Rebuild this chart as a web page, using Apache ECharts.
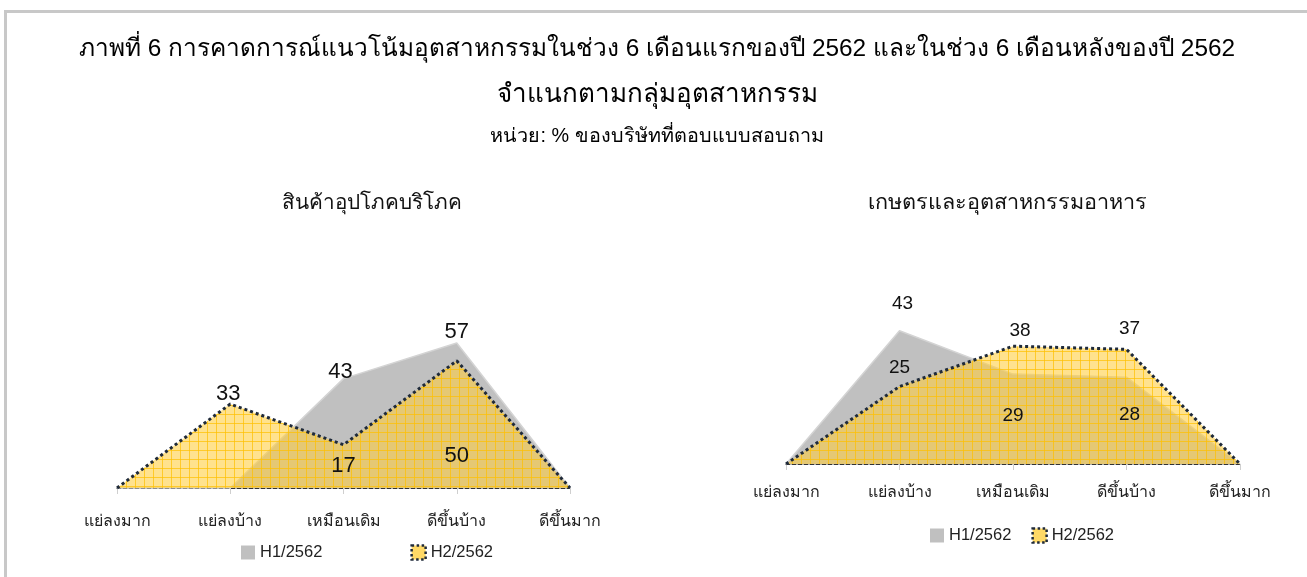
<!DOCTYPE html>
<html>
<head>
<meta charset="utf-8">
<script src="https://cdn.jsdelivr.net/npm/echarts@6/dist/echarts.min.js"></script>
<style>
  html, body { margin: 0; padding: 0; background: #fff; }
  #chart { width: 1307px; height: 577px; }
  .frame { position: absolute; left: 4px; top: 10px; right: 0; bottom: 0;
    border-top: 3px solid #c8c8c8; border-left: 3px solid #c8c8c8; pointer-events: none; }
</style>
</head>
<body>
<div id="chart"></div>
<div class="frame"></div>
<script>
const categories = ['แย่ลงมาก', 'แย่ลงบ้าง', 'เหมือนเดิม', 'ดีขึ้นบ้าง', 'ดีขึ้นมาก']
const seriesNames = ['H1/2562', 'H2/2562']
const consumerH1 = [0, 0, 43, 57, 0]
const consumerH2 = [0, 33, 17, 50, 0]
const foodH1 = [0, 43, 29, 28, 0]
const foodH2 = [0, 25, 38, 37, 0]

const FONT = '"Liberation Sans", Arial, "Noto Sans", sans-serif'
const GRAY = '#c0c0c0'
const DOTS = '#1f2a3a'

// yellow fill with a small grid, like the excel pattern fill
function gridPattern() {
  const c = document.createElement('canvas')
  c.width = 9; c.height = 9
  const g = c.getContext('2d')
  g.fillStyle = 'rgba(255,205,60,0.58)'
  g.fillRect(0, 0, 9, 9)
  g.fillStyle = 'rgba(255,192,0,0.7)'
  g.fillRect(0, 0, 9, 1)
  g.fillRect(0, 0, 1, 9)
  return c
}
const pattern = { image: gridPattern(), repeat: 'repeat' }

// label nudges per point: [dx, dy] from the 'top' position, null = hidden
const consumerH1Lbl = [null, null, [-3, 4], [0, 0], null]
const consumerH2Lbl = [null, [-2, 1], [0, 32], [0, 106], null]
const foodH1Lbl = [null, [3, -17], [0, 51], [3, 47], null]
const foodH2Lbl = [null, [0, -9], [7, -6], [3, -11], null]

function points(values, lbl, size) {
  return values.map((v, i) => ({
    value: v,
    label: lbl[i]
      ? { show: true, position: 'top', distance: 0, offset: lbl[i], fontSize: size, color: '#111', fontFamily: FONT }
      : { show: false },
  }))
}

function areaH1(name, idx, data) {
  return {
    name, type: 'line', xAxisIndex: idx, yAxisIndex: idx, z: 2,
    symbol: 'none',
    lineStyle: { color: '#d4d4d4', width: 1.5 },
    areaStyle: { color: GRAY, opacity: 1 },
    itemStyle: { color: GRAY },
    data,
  }
}
function areaH2(name, idx, data) {
  return {
    name, type: 'line', xAxisIndex: idx, yAxisIndex: idx, z: 3,
    symbol: 'circle', symbolSize: 0, showSymbol: true,
    lineStyle: { color: DOTS, width: 3, type: 'dotted' },
    areaStyle: { color: pattern, opacity: 1 },
    itemStyle: { color: '#ffd966' },
    data,
  }
}
// H1 numbers sit over the H2 fill, so they ride on their own top layer
function labelsOnly(name, idx, data) {
  return {
    name, type: 'line', xAxisIndex: idx, yAxisIndex: idx, z: 5,
    symbol: 'circle', symbolSize: 0, showSymbol: true,
    lineStyle: { opacity: 0 }, itemStyle: { color: GRAY }, silent: true,
    data,
  }
}

function xAxis(idx, margin) {
  return {
    type: 'category', gridIndex: idx, data: categories, boundaryGap: false,
    axisLine: { lineStyle: { color: '#333', type: 'dashed', width: 1 } },
    axisTick: { show: true, length: 6, lineStyle: { color: '#cfcfcf' } },
    axisLabel: { color: '#222', fontSize: 16, fontFamily: FONT, margin, interval: 0 },
  }
}
function yAxis(idx, max) {
  return { type: 'value', gridIndex: idx, min: 0, max, show: false }
}

function legend(left, top, gap) {
  return {
    left, top, padding: 0, itemGap: gap, itemWidth: 14, itemHeight: 14,
    textStyle: { fontSize: 16.5, color: '#222', fontFamily: FONT },
    data: [
      { name: seriesNames[0], icon: 'rect', itemStyle: { color: GRAY, borderWidth: 0 } },
      { name: seriesNames[1], icon: 'rect',
        itemStyle: { color: '#ffd966', borderColor: DOTS, borderWidth: 2.5, borderType: 'dotted' } },
    ],
  }
}

function heading(text, x, y, size, color) {
  return { text, left: x, top: y - size * 0.6, textAlign: 'center',
    textStyle: { fontSize: size, fontWeight: 'normal', color } }
}

const chart = echarts.init(document.getElementById('chart'))
chart.setOption({
  animation: false,
  textStyle: { fontFamily: FONT },
  title: [
    heading('ภาพที่ 6 การคาดการณ์แนวโน้มอุตสาหกรรมในช่วง 6 เดือนแรกของปี 2562 และในช่วง 6 เดือนหลังของปี 2562', 652, 47, 24.4, '#000'),
    heading('จำแนกตามกลุ่มอุตสาหกรรม', 652, 92, 26, '#000'),
    heading('หน่วย: % ของบริษัทที่ตอบแบบสอบถาม', 652, 133, 19.8, '#000'),
    heading('สินค้าอุปโภคบริโภค', 367, 200, 20.7, '#111'),
    heading('เกษตรและอุตสาหกรรมอาหาร', 1002, 200, 21.6, '#111'),
  ],
  legend: [legend(241, 544, 88), legend(930, 527, 20)],
  grid: [
    { left: 117, right: 737, top: 335.4, bottom: 89 },
    { left: 786, right: 67, top: 309, bottom: 113 },
  ],
  xAxis: [xAxis(0, 26), xAxis(1, 21)],
  yAxis: [yAxis(0, 60), yAxis(1, 50)],
  series: [
    areaH1(seriesNames[0], 0, consumerH1),
    areaH2(seriesNames[1], 0, points(consumerH2, consumerH2Lbl, 22)),
    labelsOnly(seriesNames[0], 0, points(consumerH1, consumerH1Lbl, 22)),
    areaH1(seriesNames[0], 1, foodH1),
    areaH2(seriesNames[1], 1, points(foodH2, foodH2Lbl, 19)),
    labelsOnly(seriesNames[0], 1, points(foodH1, foodH1Lbl, 19)),
  ],
})
</script>
</body>
</html>
